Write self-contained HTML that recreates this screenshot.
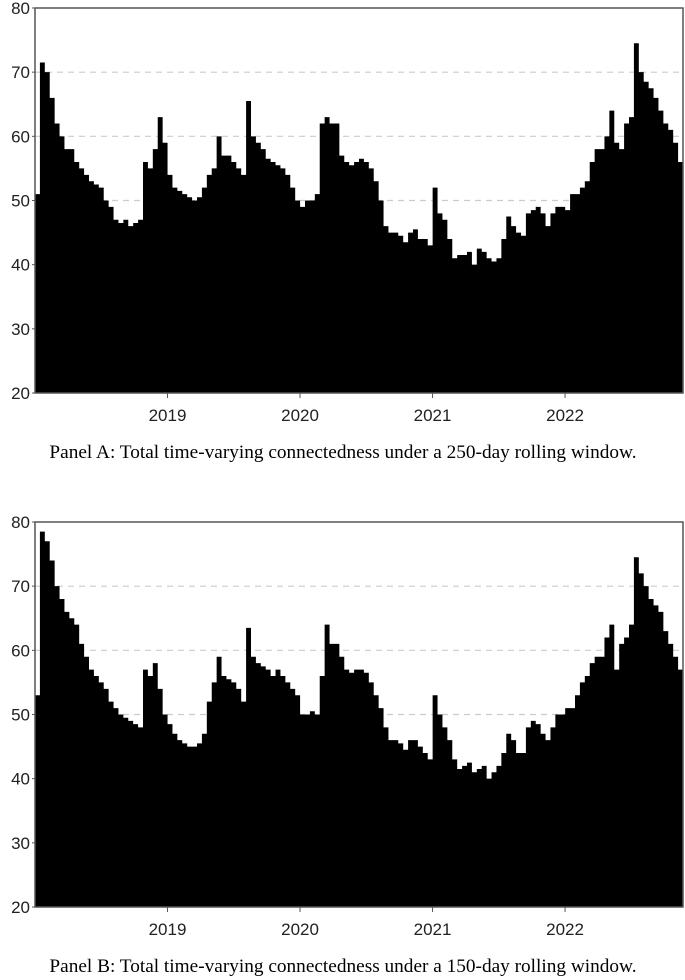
<!DOCTYPE html>
<html><head><meta charset="utf-8"><style>
html,body{margin:0;padding:0;background:#fff;width:685px;height:980px;overflow:hidden}
svg{display:block}
.tick{font-family:"Liberation Sans",Arial,sans-serif;font-size:17px;fill:#222}
.cap{font-family:"Liberation Serif","Times New Roman",serif;font-size:19.3px;fill:#000}
</style></head><body>
<svg id="chart" width="685" height="980"></svg>
<script>
// Shared x axis: observations uniformly spaced from start to end (decimal years)
const startYear = 2018.0;
const endYear = 2022.89;
const xTickLabels = ["2019","2020","2021","2022"];
const yTickLabels = [20,30,40,50,60,70,80];
const gridValues = [50,60,70];
const panelAValues = [51,71.5,70,66,62,60,58,58,56,55,54,53,52.5,52,50,49,47,46.5,47,46,46.5,47,56,55,58,63,59,54,52,51.5,51,50.5,50,50.5,52,54,55,60,57,57,56,55,54,65.5,60,59,58,56.5,56,55.5,55,54,52,50,49,50,50,51,62,63,62,62,57,56,55.5,56,56.5,56,55,53,50,46,45,45,44.5,43.5,45,45.5,44,44,43,52,48,47,44,41,41.5,41.5,42,40,42.5,42,41,40.5,41,44,47.5,46,45,44.5,48,48.5,49,48,46,48,49,49,48.5,51,51,52,53,56,58,58,60,64,59,58,62,63,74.5,70,68.5,67.5,66,64,62,61,59,56];
const panelBValues = [53,78.5,77,74,70,68,66,65,64,61,59,57,56,55,54,52,51,50,49.5,49,48.5,48,57,56,58,54,50,48.5,47,46,45.5,45,45,45.5,47,52,55,59,56,55.5,55,54,52,63.5,59,58,57.5,57,56,57,56,55,54,53,50,50,50.5,50,56,64,61,61,59,57,56.5,57,57,56.5,55,53,51,48,46,46,45.5,44.5,46,46,45,44,43,53,50,48,46,43,41.5,42,42.5,41,41.5,42,40,41,42,44,47,46,44,44,48,49,48.5,47,46,48,50,50,51,51,53,55,56,58,59,59,62,64,57,61,62,64,74.5,72,70,68,67,66,63,61,59,57];
const captions = ["Panel A: Total time-varying connectedness under a 250-day rolling window.","Panel B: Total time-varying connectedness under a 150-day rolling window."];

const NS="http://www.w3.org/2000/svg";
const svg=document.getElementById('chart');
function mk(tag,attrs,parent){const e=document.createElementNS(NS,tag);for(const k in attrs)e.setAttribute(k,attrs[k]);(parent||svg).appendChild(e);return e;}

function drawPanel(values, top, caption, capY, key){
  const L=35,R=683,B=top+385,T=top;
  const xs=v=>L+(v-startYear)/(endYear-startYear)*(R-L);
  const ys=v=>B-(v-20)/60*(B-T);
  const g=mk('g',{});
  
  
  gridValues.forEach(v=>{
    const l=mk('line',{x1:L,x2:R,y1:ys(v),y2:ys(v),stroke:'#ccc','stroke-width':1.2,'stroke-dasharray':'6,5'},g);
    
    
  });
  const n=values.length, step=(endYear-startYear)/n;
  let d='M'+xs(startYear)+','+ys(20);
  values.forEach((v,i)=>{
    const x0=xs(startYear+i*step), x1=xs(startYear+(i+1)*step);
    d+=' L'+x0.toFixed(2)+','+ys(v).toFixed(2)+' L'+x1.toFixed(2)+','+ys(v).toFixed(2);
  });
  d+=' L'+xs(endYear)+','+ys(20)+' Z';
  const area=mk('path',{d:d,fill:'#000'},g);
  
  
  const box=mk('rect',{x:L,y:T,width:R-L,height:B-T,fill:'none',stroke:'#555','stroke-width':1.5},g);
  
  
  yTickLabels.forEach(v=>{
    const t=mk('text',{x:L-5,y:ys(v)+6,'text-anchor':'end',class:'tick'},g);
    t.textContent=v;
    
    
    mk('line',{x1:L-3,x2:L,y1:ys(v),y2:ys(v),stroke:'#555'},g);
  });
  xTickLabels.forEach(lab=>{
    const x=xs(+lab);
    mk('line',{x1:x,x2:x,y1:B,y2:B+5,stroke:'#555'},g);
    const t=mk('text',{x:x,y:B+28,'text-anchor':'middle',class:'tick'},g);
    t.textContent=lab;
    
    
  });
  const c=mk('text',{x:343,y:capY,'text-anchor':'middle',class:'cap'},g);
  c.textContent=caption;
  
  
}
drawPanel(panelAValues,8,captions[0],458,'panel-a');
drawPanel(panelBValues,522,captions[1],972,'panel-b');
</script>
</body></html>
